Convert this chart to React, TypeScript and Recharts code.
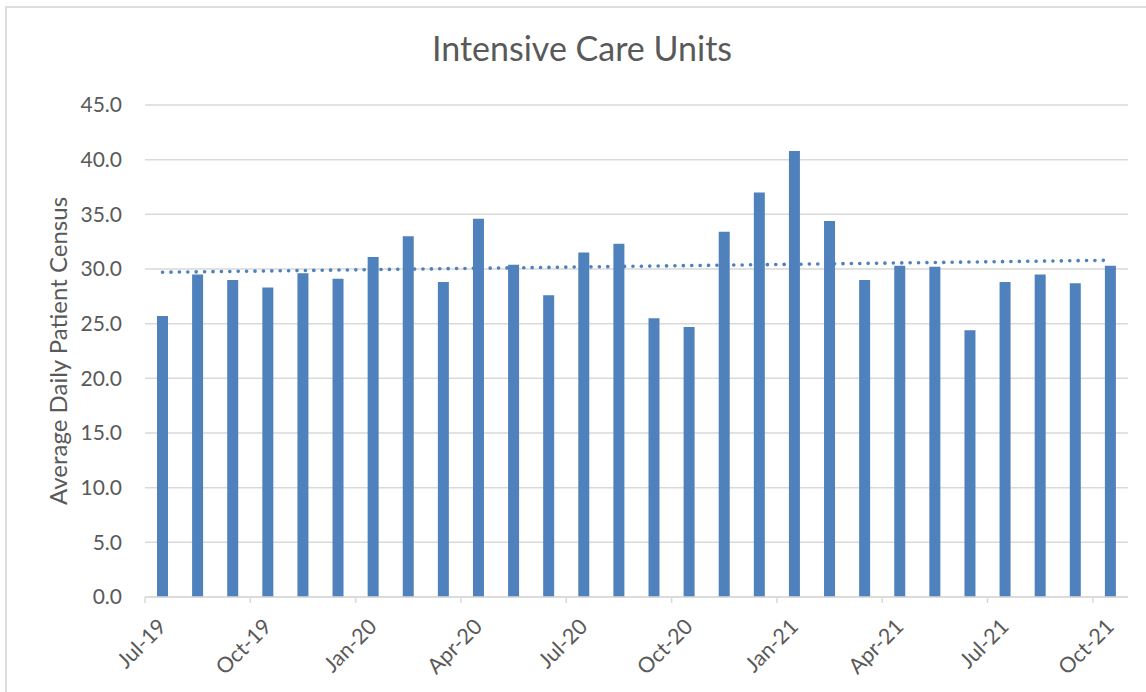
import React from 'react'
import { ComposedChart, Bar, Line, XAxis, YAxis, CartesianGrid } from 'recharts'

// monthly values, Jul-19 .. Oct-21
const months = [
  'Jul-19', 'Aug-19', 'Sep-19', 'Oct-19', 'Nov-19', 'Dec-19',
  'Jan-20', 'Feb-20', 'Mar-20', 'Apr-20', 'May-20', 'Jun-20',
  'Jul-20', 'Aug-20', 'Sep-20', 'Oct-20', 'Nov-20', 'Dec-20',
  'Jan-21', 'Feb-21', 'Mar-21', 'Apr-21', 'May-21', 'Jun-21',
  'Jul-21', 'Aug-21', 'Sep-21', 'Oct-21',
]
const census = [
  25.7, 29.5, 29.0, 28.3, 29.6, 29.1,
  31.1, 33.0, 28.8, 34.6, 30.4, 27.6,
  31.5, 32.3, 25.5, 24.7, 33.4, 37.0,
  40.8, 34.4, 29.0, 30.3, 30.2, 24.4,
  28.8, 29.5, 28.7, 30.3,
]
// dotted linear trendline, read at its two ends
const trendStart = 29.7
const trendEnd = 30.8
const yTicks = [0, 5, 10, 15, 20, 25, 30, 35, 40, 45]

const data = months.map((m, i) => ({
  month: m,
  census: census[i],
  trend: i === 0 ? trendStart : i === months.length - 1 ? trendEnd : null,
}))

const W = 1146
const H = 692
const PLOT_LEFT = 145
const PLOT_RIGHT = 1128
const SLOT = (PLOT_RIGHT - PLOT_LEFT) / months.length
const FONT = 'Lato, "Open Sans", sans-serif'
const GREY = '#595959'
const BLUE = '#4f81bd'

function MonthTick(props: any) {
  const { x, y, index, payload } = props
  if (index % 3 !== 0) return null
  const tx = x - SLOT / 2
  const lx = x + 5
  const ly = y + 31
  return (
    <g>
      <line x1={tx} y1={y} x2={tx} y2={y + 6} stroke="#d9d9d9" strokeWidth={1.5} />
      <text
        x={lx}
        y={ly}
        textAnchor="end"
        transform={`rotate(-45, ${lx}, ${ly})`}
        fill={GREY}
        fontSize={21.5}
        fontFamily={FONT}
      >
        {payload.value}
      </text>
    </g>
  )
}

export default function App() {
  return (
    <div style={{ position: 'absolute', left: 0, top: 0, width: W, height: H, background: '#fff', overflow: 'hidden' }}>
      <div
        style={{
          position: 'absolute', left: 5, top: 6, width: W, height: H,
          borderLeft: '2px solid #dedede', borderTop: '2px solid #dedede',
        }}
      />
      <ComposedChart
        width={W}
        height={H}
        data={data}
        margin={{ top: 105, right: W - PLOT_RIGHT, bottom: 15, left: 85 }}
      >
        <CartesianGrid vertical={false} stroke="#d9d9d9" strokeWidth={1.5} />
        <XAxis
          dataKey="month"
          interval={0}
          height={80}
          tickSize={0}
          tickMargin={0}
          tickLine={false}
          axisLine={{ stroke: '#d9d9d9', strokeWidth: 1.5 }}
          tick={<MonthTick />}
        />
        <YAxis
          width={60}
          domain={[0, 45]}
          ticks={yTicks}
          interval={0}
          axisLine={false}
          tickLine={false}
          tickSize={0}
          tickMargin={23}
          tickFormatter={(v: number) => v.toFixed(1)}
          tick={{ fill: GREY, fontSize: 21, fontFamily: FONT }}
        />
        <Bar dataKey="census" fill={BLUE} barSize={11} isAnimationActive={false} />
        <Line
          dataKey="trend"
          connectNulls
          stroke={BLUE}
          strokeWidth={3.6}
          strokeLinecap="round"
          strokeDasharray="0.1 8.3"
          dot={false}
          activeDot={false}
          isAnimationActive={false}
        />
      </ComposedChart>
      <svg width={W} height={H} style={{ position: 'absolute', left: 0, top: 0, pointerEvents: 'none' }}>
        <text x={582} y={61} textAnchor="middle" fill={GREY} fontSize={34} fontFamily={FONT}>
          Intensive Care Units
        </text>
        <text
          x={67}
          y={351}
          textAnchor="middle"
          transform="rotate(-90, 67, 351)"
          fill={GREY}
          fontSize={24}
          fontFamily={FONT}
        >
          Average Daily Patient Census
        </text>
      </svg>
    </div>
  )
}
